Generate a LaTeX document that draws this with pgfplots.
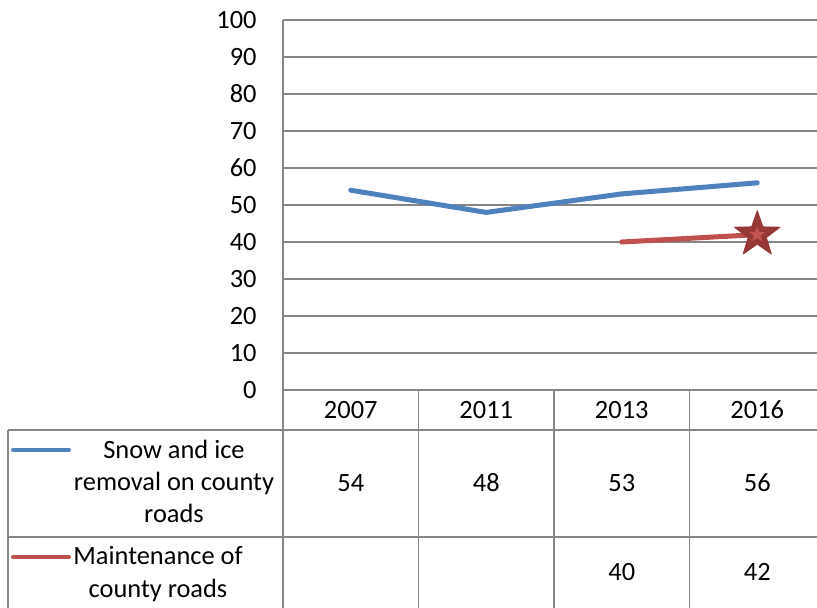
\documentclass[border=0pt]{standalone}
\usepackage{pgfplots}
\pgfplotsset{compat=1.18}
\usepackage{fontspec}
\setmainfont{Carlito}
\definecolor{sblue}{RGB}{79,129,189}
\definecolor{sred}{RGB}{192,80,77}
\definecolor{sdark}{RGB}{149,55,53}
\definecolor{slight}{RGB}{196,84,82}
\definecolor{gline}{RGB}{134,134,134}
\pgfdeclareplotmark{fstar}{%
  \pgfpathmoveto{\pgfpointpolar{90}{\pgfplotmarksize}}%
  \pgfpathlineto{\pgfpointpolar{126}{0.4\pgfplotmarksize}}%
  \pgfpathlineto{\pgfpointpolar{162}{\pgfplotmarksize}}%
  \pgfpathlineto{\pgfpointpolar{198}{0.4\pgfplotmarksize}}%
  \pgfpathlineto{\pgfpointpolar{234}{\pgfplotmarksize}}%
  \pgfpathlineto{\pgfpointpolar{270}{0.4\pgfplotmarksize}}%
  \pgfpathlineto{\pgfpointpolar{306}{\pgfplotmarksize}}%
  \pgfpathlineto{\pgfpointpolar{342}{0.4\pgfplotmarksize}}%
  \pgfpathlineto{\pgfpointpolar{18}{\pgfplotmarksize}}%
  \pgfpathlineto{\pgfpointpolar{54}{0.4\pgfplotmarksize}}%
  \pgfpathclose
  \pgfusepathqfillstroke}
\begin{document}
\begin{tikzpicture}[font=\fontsize{13.2}{16}\selectfont]
\clip (-141.5pt,-108.5pt) rectangle (267pt,195pt);
\begin{axis}[at={(0,0)}, anchor=south west, scale only axis,
  width=271pt, height=185pt,
  xmin=-0.5, xmax=3.5, ymin=0, ymax=100,
  ytick={0,10,...,100},
  ymajorgrids, grid style={gline, line width=0.75pt},
  axis x line=none, axis y line*=left,
  y axis line style={gline, line width=0.75pt},
  major tick length=0pt,
  yticklabel style={anchor=east, inner sep=0pt, xshift=-13pt, font=\fontsize{13.2}{16}\selectfont},
  /pgf/number format/assume math mode=true,
  clip=false]
\addplot[sblue, line width=2.5pt, line cap=round, line join=round] coordinates {(0,54) (1,48) (2,53) (3,56)};
\addplot[sred, line width=2.5pt, line cap=round, line join=round,
  mark=fstar, mark indices={2}, mark size=12pt,
  mark options={fill=sdark, draw=sdark, line width=0.4pt}] coordinates {(2,40) (3,42)};
\addplot[slight, only marks, mark=fstar, mark size=4pt, mark options={fill=slight, draw=slight, line width=0.1pt}] coordinates {(3,42)};
% data table values
\node at (axis cs:0,-5.4) {2007};
\node at (axis cs:1,-5.4) {2011};
\node at (axis cs:2,-5.4) {2013};
\node at (axis cs:3,-5.4) {2016};
\node at (axis cs:0,-25.1) {54};
\node at (axis cs:1,-25.1) {48};
\node at (axis cs:2,-25.1) {53};
\node at (axis cs:3,-25.1) {56};
\node at (axis cs:2,-49.2) {40};
\node at (axis cs:3,-49.2) {42};
\end{axis}
\begin{scope}[gline, line width=0.75pt]
\draw (-137.5pt,-20pt) -- (271pt,-20pt);
\draw (-137.5pt,-73.5pt) -- (271pt,-73.5pt);
\draw (-137.5pt,-20pt) -- (-137.5pt,-110pt);
\foreach \x in {0,67.75,135.5,203.25} \draw (\x pt,0pt) -- (\x pt,-110pt);
\end{scope}
\draw[sblue, line width=2pt, line cap=round] (-135pt,-30pt) -- (-107pt,-30pt);
\draw[sred, line width=2pt, line cap=round] (-135pt,-83.5pt) -- (-107pt,-83.5pt);
\node[anchor=base, inner sep=0pt] at (-54.5pt,-34pt) {Snow and ice};
\node[anchor=base, inner sep=0pt] at (-54.5pt,-50pt) {removal on county};
\node[anchor=base, inner sep=0pt] at (-54.5pt,-66pt) {roads};
\node[anchor=base, inner sep=0pt] at (-62.5pt,-87pt) {Maintenance of};
\node[anchor=base, inner sep=0pt] at (-62.5pt,-103.5pt) {county roads};
\end{tikzpicture}
\end{document}
